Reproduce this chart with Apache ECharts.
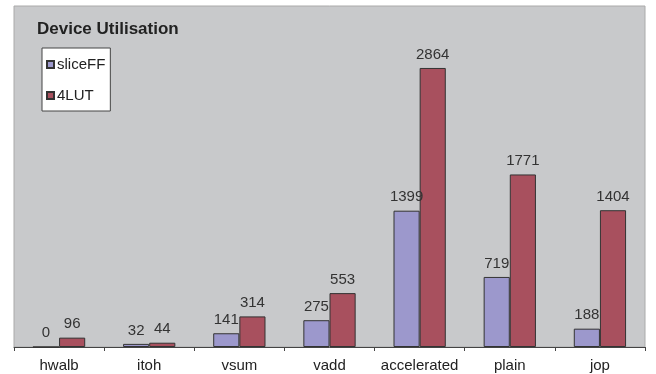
<!DOCTYPE html>
<html>
<head>
<meta charset="utf-8">
<script src="https://cdn.jsdelivr.net/npm/echarts@6/dist/echarts.min.js"></script>
<style>
  html, body { margin: 0; padding: 0; background: #fff; }
  #chart { width: 656px; height: 374px; }
</style>
</head>
<body>
<div id="chart"></div>
<script>
// chart data
const categories = ['hwalb', 'itoh', 'vsum', 'vadd', 'accelerated', 'plain', 'jop'];
const sliceFF = [0, 32, 141, 275, 1399, 719, 188];
const lut4 = [96, 44, 314, 553, 2864, 1771, 1404];
const seriesNames = ['sliceFF', '4LUT'];

const chart = echarts.init(document.getElementById('chart'), null, { renderer: 'canvas' });

const font = 'Liberation Sans, Arial, sans-serif';
const labelStyle = {
  show: true,
  position: 'top',
  distance: 6,
  color: '#333',
  fontFamily: font,
  fontSize: 15
};

chart.setOption({
  animation: false,
  backgroundColor: '#fff',
  title: {
    text: 'Device Utilisation',
    left: 32,
    top: 16,
    textStyle: { fontFamily: font, fontSize: 17, fontWeight: 'bold', color: '#222' }
  },
  legend: {
    data: seriesNames,
    orient: 'vertical',
    left: 42,
    top: 48,
    padding: [9, 5, 8, 4],
    itemGap: 16,
    itemWidth: 7,
    itemHeight: 7,
    icon: 'rect',
    backgroundColor: '#fff',
    borderColor: '#444',
    borderWidth: 1,
    textStyle: { fontFamily: font, fontSize: 15, color: '#222', padding: [0, 0, 0, -2] }
  },
  grid: {
    left: 14, right: 11, top: 6, bottom: 27,
    show: true,
    backgroundColor: '#c8c9cb',
    borderColor: '#aaa',
    borderWidth: 1
  },
  xAxis: {
    type: 'category',
    data: categories,
    axisLine: { lineStyle: { color: '#444', width: 1 } },
    axisTick: { show: true, interval: 0, length: 4, lineStyle: { color: '#444' } },
    axisLabel: { interval: 0, hideOverlap: false, color: '#222', fontFamily: font, fontSize: 15, margin: 11 }
  },
  yAxis: {
    type: 'value',
    min: 0,
    max: 3500,
    show: false,
    splitLine: { show: false }
  },
  series: [
    {
      name: seriesNames[0],
      type: 'bar',
      data: sliceFF,
      barGap: '0%',
      barCategoryGap: '42%',
      itemStyle: { color: '#9c98cc', borderColor: '#333', borderWidth: 1 },
      label: labelStyle
    },
    {
      name: seriesNames[1],
      type: 'bar',
      data: lut4,
      itemStyle: { color: '#a8505e', borderColor: '#333', borderWidth: 1 },
      label: labelStyle
    }
  ]
});
</script>
</body>
</html>
